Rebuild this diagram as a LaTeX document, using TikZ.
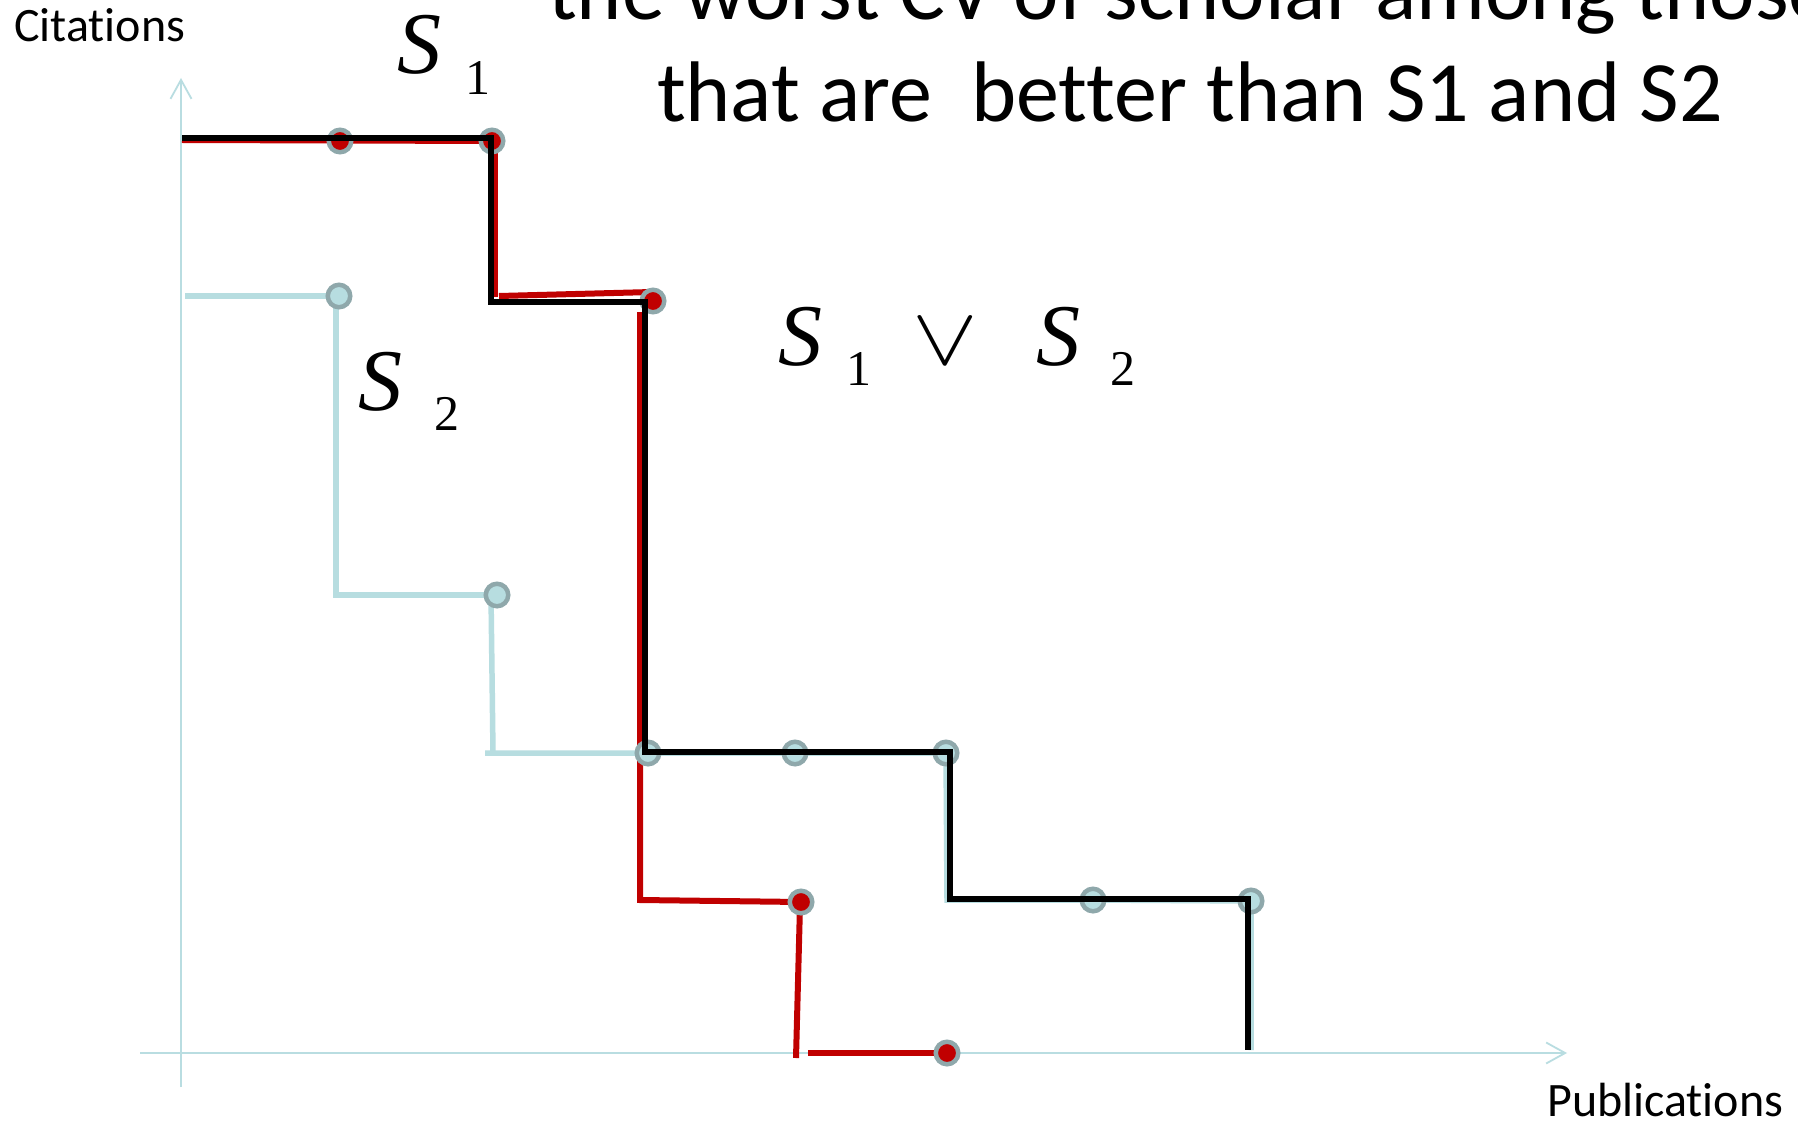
\RequirePackage{fix-cm}
\documentclass[tikz,border=0pt]{standalone}
\usepackage{fontspec}
\setmainfont{Carlito}[Ligatures={NoCommon}]
\newfontfamily\timesfont{Liberation Serif}
\usetikzlibrary{arrows.meta}

\definecolor{s2blue}{HTML}{B7DDE0}
\definecolor{s1red}{HTML}{C00000}
\definecolor{ringgray}{HTML}{8FA8AB}
\definecolor{axisblue}{HTML}{B9DDE1}

\tikzset{
  axisline/.style={draw=axisblue, line width=1.8pt, -{Straight Barb[length=19pt,width=21pt]}},
  s2line/.style={draw=s2blue, line width=5.5pt},
  s1line/.style={draw=s1red, line width=6pt},
  unionline/.style={draw=black, line width=6.7pt, line join=miter},
  dotbase/.style={circle, draw=ringgray, line width=4.5pt, minimum size=22.5pt, inner sep=0pt},
  reddot/.style={dotbase, fill=s1red},
  bluedot/.style={dotbase, fill=s2blue},
  symS/.style={font=\timesfont\itshape\fontsize{88}{88}\selectfont, anchor=base west, inner sep=0pt},
  subnum/.style={font=\timesfont\fontsize{50}{50}\selectfont, anchor=base west, inner sep=0pt},
  axislabel/.style={font=\fontsize{48}{48}\selectfont, anchor=base west, inner sep=0pt},
  titleline/.style={font=\fontsize{86}{86}\selectfont, anchor=base, inner sep=0pt}
}

\begin{document}
\begin{tikzpicture}[x=1pt,y=-1pt]
  \path[use as bounding box, fill=white] (0,0) rectangle (1798,1123);

  % axes
  \coordinate (yaxbot) at (181,1087);
  \coordinate (yaxtop) at (181,78);
  \coordinate (xaxleft) at (140,1053);
  \coordinate (xaxright) at (1567,1053);
  \draw[axisline] (yaxbot) -- (yaxtop);
  \draw[axisline] (xaxleft) -- (xaxright);

  % S2 corners and points
  \coordinate (la) at (185,296);
  \coordinate (l1) at (339,296);
  \coordinate (lb) at (336,296);
  \coordinate (lc) at (336,595);
  \coordinate (l2) at (497,595);
  \coordinate (ld) at (491,595);
  \coordinate (le) at (493,753);
  \coordinate (lf) at (485,753);
  \coordinate (l3) at (648,753);
  \coordinate (l4) at (795,753);
  \coordinate (l5) at (946,753);
  \coordinate (lg) at (947,900);
  \coordinate (l6) at (1093,900);
  \coordinate (l7) at (1251,901);
  \coordinate (lh) at (1251,1050);

  % S1 corners and points
  \coordinate (ra) at (182,140);
  \coordinate (r1) at (340,141);
  \coordinate (r2) at (492,141);
  \coordinate (rb) at (495,140);
  \coordinate (rc) at (495,297);
  \coordinate (rd) at (499,296);
  \coordinate (re) at (652,292);
  \coordinate (r3) at (653,301);
  \coordinate (rf) at (640,312);
  \coordinate (rg) at (640,900);
  \coordinate (r4) at (801,902);
  \coordinate (rh) at (800,905);
  \coordinate (ri) at (796,1058);
  \coordinate (rj) at (808,1053);
  \coordinate (r5) at (947,1053);

  % S1 v S2 corners
  \coordinate (b0) at (182,138);
  \coordinate (b1) at (491,138);
  \coordinate (b2) at (491,302);
  \coordinate (b3) at (645,302);
  \coordinate (b4) at (645,752);
  \coordinate (b5) at (950,752);
  \coordinate (b6) at (950,899);
  \coordinate (b7) at (1248,899);
  \coordinate (b8) at (1248,1050);

  % S2 profile
  \draw[s2line] (la) -- (l1);
  \draw[s2line] (lb) -- (lc) -- (l2);
  \draw[s2line] (ld) -- (le);
  \draw[s2line] (lf) -- (l3) -- (l4) -- (l5) -- (lg) -- (l6) -- (l7) -- (lh);

  % S1 profile
  \draw[s1line] (ra) -- (r2);
  \draw[s1line] (rb) -- (rc);
  \draw[s1line] (rd) -- (re);
  \draw[s1line] (rf) -- (rg) -- (r4);
  \draw[s1line] (rh) -- (ri);
  \draw[s1line] (rj) -- (r5);

  % data points
  \node[bluedot] (p1) at (l1) {};
  \node[bluedot] (p2) at (l2) {};
  \node[bluedot] (p3) at (l3) {};
  \node[bluedot] (p4) at (l4) {};
  \node[bluedot] (p5) at (l5) {};
  \node[bluedot] (p6) at (l6) {};
  \node[bluedot] (p7) at (l7) {};
  \node[reddot] (q1) at (r1) {};
  \node[reddot] (q2) at (r2) {};
  \node[reddot] (q3) at (r3) {};
  \node[reddot] (q4) at (r4) {};
  \node[reddot] (q5) at (r5) {};

  % S1 v S2 profile
  \draw[unionline] (b0) -- (b1) -- (b2) -- (b3) -- (b4) -- (b5) -- (b6) -- (b7) -- (b8);

  % axis labels
  \node[axislabel] (ylab) at (14,42) {Citations};
  \node[axislabel] (xlab) at (1547,1116) {Publications};

  % title
  \node[titleline] (title1) at (1190,20) {the worst CV of scholar among those};
  \node[titleline] (title2) at (1190,122) {that are\ \ better than S1 and S2};

  % curve labels
  \node[symS] (s1S) at (397,74) {S};
  \node[subnum] (s1n) at (465,95) {1};
  \node[symS] (s2S) at (358,410) {S};
  \node[subnum] (s2n) at (434,430) {2};
  \node[symS] (uS1) at (778,365) {S};
  \node[subnum] (un1) at (846,385) {1};
  \node[inner sep=0pt] (uvee) at (945,342) {\scalebox{1.2}[1]{\fontsize{82}{82}\selectfont$\vee$}};
  \node[symS] (uS2) at (1036,365) {S};
  \node[subnum] (un2) at (1110,385) {2};
\end{tikzpicture}
\end{document}
